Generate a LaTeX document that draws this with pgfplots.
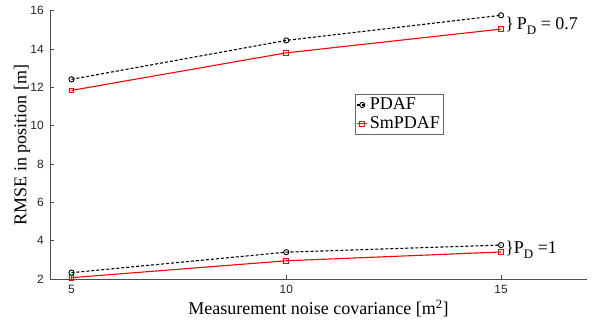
\documentclass[border=0pt]{standalone}
\usepackage{fontspec}
\setmainfont{Liberation Serif}
\newfontfamily\tickfont{Liberation Sans}
\usepackage{pgfplots}
\pgfplotsset{compat=1.18}
\begin{document}
\fontsize{18}{21}\selectfont
\begin{tikzpicture}[x=1pt,y=1pt]
\useasboundingbox (-50,-47) rectangle (548,279);
\begin{axis}[
  at={(0,0)}, anchor=south west,
  scale only axis, width=537pt, height=268.3pt,
  xmin=4.5, xmax=17, ymin=2, ymax=16,
  axis x line*=bottom, axis y line*=left,
  axis line style={black!70, line width=0.6pt},
  tick align=inside, major tick length=4pt,
  tick style={black!70, line width=0.6pt},
  xtick={5,10,15}, ytick={2,4,6,8,10,12,14,16},
  /pgf/number format/assume math mode=true,
  ticklabel style={font=\tickfont\fontsize{12}{12}\selectfont, text=black!85},
  xlabel={Measurement noise covariance [m\textsuperscript{2}]},
  ylabel={RMSE in position [m]},
  label style={font=\fontsize{18}{20}\selectfont},
  xlabel style={yshift=6pt},
  ylabel style={yshift=-12pt},
  legend style={at={(0.568,0.6895)}, anchor=north west, draw=black!60,
    font=\fontsize{18}{20}\selectfont, inner sep=1.5pt, row sep=0pt,
    legend cell align=left},
  legend image code/.code={\draw[mark repeat=2,mark phase=2] plot coordinates {(0pt,0pt) (5pt,0pt) (10pt,0pt)};},
  clip=false,
]
\addplot[black, dash pattern=on 3pt off 2pt, line width=1.1pt, mark=o, mark size=2.6pt, mark options={solid, line width=0.9pt}]
  coordinates {(5,12.42) (10,14.45) (15,15.76)};
\addlegendentry{PDAF}
\addplot[red, line width=1.1pt, mark=square, mark size=2.4pt, mark options={solid, line width=0.8pt}]
  coordinates {(5,11.84) (10,13.80) (15,15.04)};
\addlegendentry{SmPDAF}
\addplot[black, dash pattern=on 3pt off 2pt, line width=1.1pt, mark=o, mark size=2.6pt, mark options={solid, line width=0.9pt}, forget plot]
  coordinates {(5,2.33) (10,3.40) (15,3.77)};
\addplot[red, line width=1.1pt, mark=square, mark size=2.4pt, mark options={solid, line width=0.8pt}, forget plot]
  coordinates {(5,2.07) (10,2.95) (15,3.41)};
\node[anchor=west, inner sep=0pt, font=\fontsize{18}{20}\selectfont] at (axis cs:15,15.2)
  {\hspace{4pt}\}\,P\raisebox{-5pt}{\fontsize{13}{13}\selectfont D} = 0.7};
\node[anchor=west, inner sep=0pt, font=\fontsize{18}{20}\selectfont] at (axis cs:15,3.55)
  {\hspace{4pt}\}P\raisebox{-5pt}{\fontsize{13}{13}\selectfont D} =1};
\end{axis}
\end{tikzpicture}
\end{document}
